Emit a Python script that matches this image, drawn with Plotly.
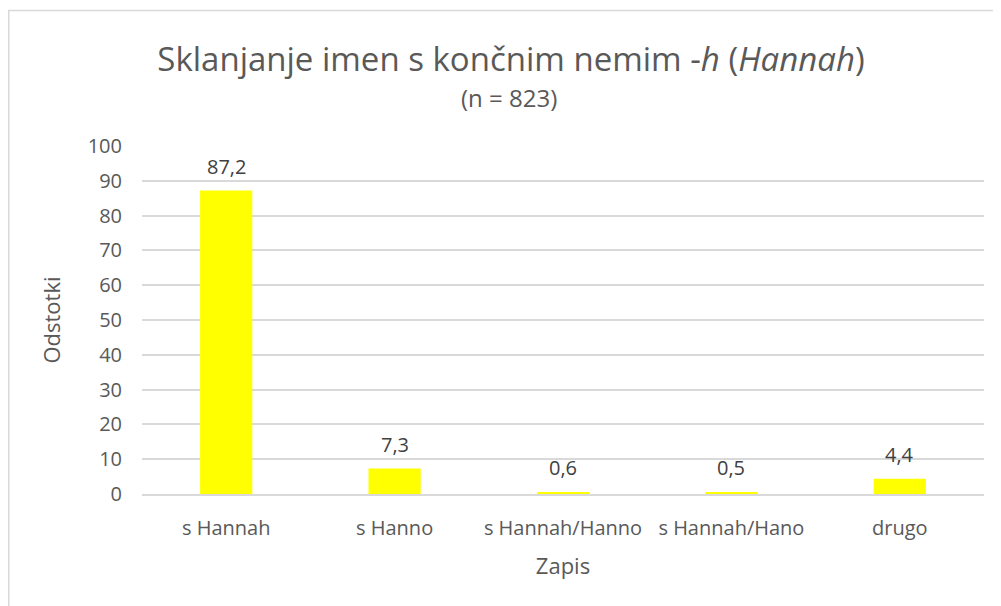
import plotly.graph_objects as go

categories = ["s Hannah", "s Hanno", "s Hannah/Hanno", "s Hannah/Hano", "drugo"]
values = [87.2, 7.3, 0.6, 0.5, 4.4]
value_labels = ["87,2", "7,3", "0,6", "0,5", "4,4"]
y_ticks = list(range(0, 101, 10))

FONT = "Open Sans"
GRAY = "#595959"

# page is rendered with an 8px body offset
OFF = 8
W, H = 1001 - OFF, 606 - OFF
L, T = 142 - OFF, 146 - OFF
R = W - (984 - OFF)
B = H - (494 - OFF)
PW = W - L - R
PH = H - T - B

fig = go.Figure()
fig.add_trace(go.Bar(
    x=categories, y=values,
    marker=dict(color="#FFFF00", line=dict(width=0)),
    width=0.31, hoverinfo="x+y",
))

for c, v, t in zip(categories, values, value_labels):
    fig.add_annotation(x=c, y=v, text=t, showarrow=False, xref="x", yref="y",
                       yanchor="bottom", yshift=9,
                       font=dict(family=FONT, size=20, color="#404040"))

fig.add_annotation(text="(n = 823)", xref="paper", yref="paper",
                   x=(509 - OFF - L) / PW, y=1 + (T - (97 - OFF)) / PH,
                   xanchor="center", yanchor="middle", showarrow=False,
                   font=dict(family=FONT, size=24, color=GRAY))

# chart border
fig.add_shape(type="rect", xref="paper", yref="paper",
              x0=(0.75 - L) / PW, y0=-0.6, x1=1.2, y1=1 + (T - 2.5) / PH,
              line=dict(color="#D9D9D9", width=1.5), fillcolor="rgba(0,0,0,0)", layer="below")

fig.update_layout(
    width=W, height=H,
    margin=dict(l=L, r=R, t=T, b=B),
    paper_bgcolor="white", plot_bgcolor="white",
    showlegend=False,
    title=dict(text="Sklanjanje imen s končnim nemim -<i>h</i> (<i>Hannah</i>)",
               x=(511 - OFF) / W, xanchor="center", xref="container",
               y=1 - (59 - OFF) / H, yanchor="middle", yref="container",
               font=dict(family=FONT, size=33, color=GRAY)),
    font=dict(family=FONT, color=GRAY),
    bargap=0.69,
)
fig.update_xaxes(
    title=dict(text="Zapis", font=dict(family=FONT, size=22, color=GRAY), standoff=19),
    tickfont=dict(family=FONT, size=20, color=GRAY),
    showline=True, linecolor="#D9D9D9", linewidth=1.5,
    ticks="", ticklabelstandoff=15, showgrid=False, fixedrange=True,
)
fig.update_yaxes(
    title=dict(text="Odstotki", font=dict(family=FONT, size=22, color=GRAY), standoff=20),
    range=[0, 100], tickvals=y_ticks,
    tickfont=dict(family=FONT, size=20, color=GRAY),
    showgrid=True, gridcolor="#D9D9D9", gridwidth=1.5,
    zeroline=False, showline=False, ticks="", ticklabelstandoff=19, fixedrange=True,
)

fig.write_html("out.html")
